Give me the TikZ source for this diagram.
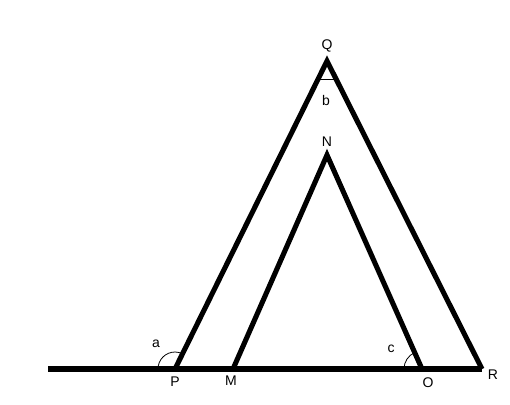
\documentclass[tikz,border=0pt]{standalone}
\usepackage{fontspec}
\setmainfont{Liberation Sans}
\usetikzlibrary{calc}
\begin{document}
\begin{tikzpicture}[x=0.75pt,y=-0.75pt,
  thick line/.style={line width=3.8pt},
  angle mark/.style={line width=0.6pt},
  lbl/.style={font=\fontsize{10.5}{12}\selectfont, inner sep=0pt}]
\useasboundingbox (0,0) rectangle (510,404);
\coordinate (L) at (48,369);
\coordinate (P) at (175,369);
\coordinate (M) at (233,369);
\coordinate (O) at (422,369);
\coordinate (R) at (482,369);
\coordinate (Q) at (327,61);
\coordinate (N) at (327,155);
\draw[thick line] (L) -- (R);
\draw[thick line] (P) -- (Q) -- (R);
\draw[thick line] (M) -- (N) -- (O);
% angle marks
\draw[angle mark] ($(P)+(180:17)$) arc[start angle=180, end angle=64, radius=17*0.75pt];
\draw[angle mark] (320,79) -- (334,79);
\draw[angle mark] ($(O)+(180:18)$) arc[start angle=180, end angle=114, radius=18*0.75pt];
% labels
\node[lbl] (lQ) at (327,46) {Q};
\node[lbl] (lb) at (326,100) {b};
\node[lbl] (lN) at (327,142) {N};
\node[lbl] (la) at (156,344) {a};
\node[lbl] (lP) at (175,382) {P};
\node[lbl] (lM) at (231,381) {M};
\node[lbl] (lc) at (391,349) {c};
\node[lbl] (lO) at (428,383) {O};
\node[lbl] (lR) at (493,375) {R};
\end{tikzpicture}
\end{document}
